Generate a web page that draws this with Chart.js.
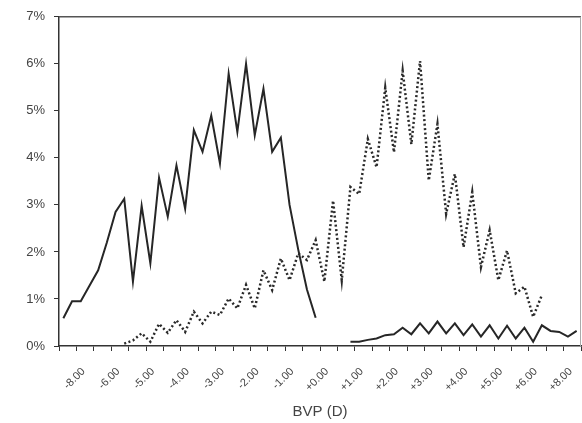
<!DOCTYPE html>
<html>
<head>
<meta charset="utf-8">
<script src="https://cdn.jsdelivr.net/npm/chart.js@4.4.0/dist/chart.umd.min.js"></script>
<style>
  html, body { margin: 0; padding: 0; background: #fff; }
  #wrap { width: 582px; height: 423px; }
</style>
</head>
<body>
<div id="wrap"><canvas id="bvpChart" width="582" height="423"></canvas></div>
<script>
// 60 bins of 0.25 D along the x axis, one label every 4 bins
const binCount = 60;
const tickLabels = ["-8.00", "-6.00", "-5.00", "-4.00", "-3.00", "-2.00", "-1.00", "+0.00",
                    "+1.00", "+2.00", "+3.00", "+4.00", "+5.00", "+6.00", "+8.00"];
const yTicks = [0, 1, 2, 3, 4, 5, 6, 7];

// solid series, left hump (starts at bin 0)
const leftStart = 0;
const leftSolid = [0.59, 0.95, 0.95, 1.28, 1.61, 2.20, 2.85, 3.13, 1.37, 2.98,
                   1.76, 3.58, 2.75, 3.84, 2.92, 4.59, 4.13, 4.90, 3.88, 5.79,
                   4.55, 6.00, 4.48, 5.47, 4.13, 4.43, 3.00, 2.05, 1.20, 0.60];

// dotted series (starts at bin 7)
const dotStart = 7;
const dotted = [0.05, 0.12, 0.27, 0.09, 0.47, 0.28, 0.55, 0.30, 0.73, 0.48,
                0.73, 0.66, 1.01, 0.80, 1.30, 0.80, 1.61, 1.19, 1.86, 1.40,
                1.97, 1.83, 2.25, 1.37, 3.09, 1.40, 3.38, 3.23, 4.40, 3.80,
                5.49, 4.12, 5.85, 4.29, 6.06, 3.52, 4.72, 2.81, 3.66, 2.10,
                3.27, 1.68, 2.46, 1.40, 2.03, 1.12, 1.26, 0.62, 1.08];

// solid series, low right part (starts at bin 33)
const rightStart = 33;
const rightSolid = [0.09, 0.09, 0.13, 0.16, 0.23, 0.25, 0.39, 0.25, 0.48, 0.27,
                    0.52, 0.27, 0.48, 0.23, 0.46, 0.20, 0.44, 0.16, 0.43, 0.16,
                    0.39, 0.09, 0.44, 0.32, 0.30, 0.20, 0.32];

function toPoints(start, vals) {
  return vals.map((v, i) => ({ x: start + i + 0.5, y: v }));
}

const frame = {
  id: 'frame',
  afterDraw(chart) {
    const a = chart.chartArea, c = chart.ctx;
    c.save();
    c.lineWidth = 1.5;
    c.strokeStyle = '#555';
    c.beginPath(); c.moveTo(a.left, a.top); c.lineTo(a.right, a.top); c.stroke();
    c.strokeStyle = '#aaa';
    c.lineWidth = 1;
    c.beginPath(); c.moveTo(a.right - 0.5, a.top); c.lineTo(a.right - 0.5, a.bottom); c.stroke();
    c.restore();
  }
};

window.onload = function () {
  const ctx = document.getElementById('bvpChart').getContext('2d');
  new Chart(ctx, {
    type: 'line',
    data: {
      datasets: [{
        data: toPoints(leftStart, leftSolid),
        borderColor: '#262626',
        borderWidth: 2,
        pointRadius: 0,
        tension: 0
      }, {
        data: toPoints(dotStart, dotted),
        borderColor: '#2a2a2a',
        borderWidth: 2.5,
        borderDash: [2, 2.5],
        pointRadius: 0,
        tension: 0
      }, {
        data: toPoints(rightStart, rightSolid),
        borderColor: '#262626',
        borderWidth: 2,
        pointRadius: 0,
        tension: 0
      }]
    },
    options: {
      responsive: false,
      animation: false,
      layout: { padding: { top: 16, right: 1, left: 0, bottom: 0 } },
      plugins: { legend: { display: false }, tooltip: { enabled: false } },
      scales: {
        x: {
          type: 'linear',
          min: 0,
          max: binCount,
          afterFit(scale) {
            scale.height = 77;
            scale.paddingLeft = 0;
            scale.paddingRight = 0;
          },
          afterBuildTicks(scale) {
            const t = [];
            for (let v = 0; v <= binCount; v += 2) t.push({ value: v });
            scale.ticks = t;
          },
          grid: { drawOnChartArea: false, drawTicks: true, tickLength: 5, tickColor: '#333' },
          border: { display: true, color: '#333', width: 1.5 },
          ticks: {
            autoSkip: false,
            minRotation: 45,
            maxRotation: 45,
            labelOffset: 7,
            padding: 14,
            color: '#444',
            font: { family: 'Liberation Sans', size: 11 },
            callback(v) {
              const k = (v - 2) / 4;
              return Number.isInteger(k) && k >= 0 && k < tickLabels.length ? tickLabels[k] : '';
            }
          },
          title: {
            display: true,
            text: 'BVP (D)',
            color: '#444',
            font: { family: 'Liberation Sans', size: 15 },
            padding: { top: 0, bottom: 2 }
          }
        },
        y: {
          min: 0,
          max: 7,
          afterFit(scale) { scale.width = 59; },
          afterBuildTicks(scale) { scale.ticks = yTicks.map(v => ({ value: v })); },
          grid: { drawOnChartArea: false, drawTicks: true, tickLength: 5, tickColor: '#333' },
          border: { display: true, color: '#333', width: 1.5 },
          ticks: {
            padding: 9,
            color: '#444',
            font: { family: 'Liberation Sans', size: 13 },
            callback(v) { return v + '%'; }
          }
        }
      }
    },
    plugins: [frame]
  });
};
</script>
</body>
</html>
